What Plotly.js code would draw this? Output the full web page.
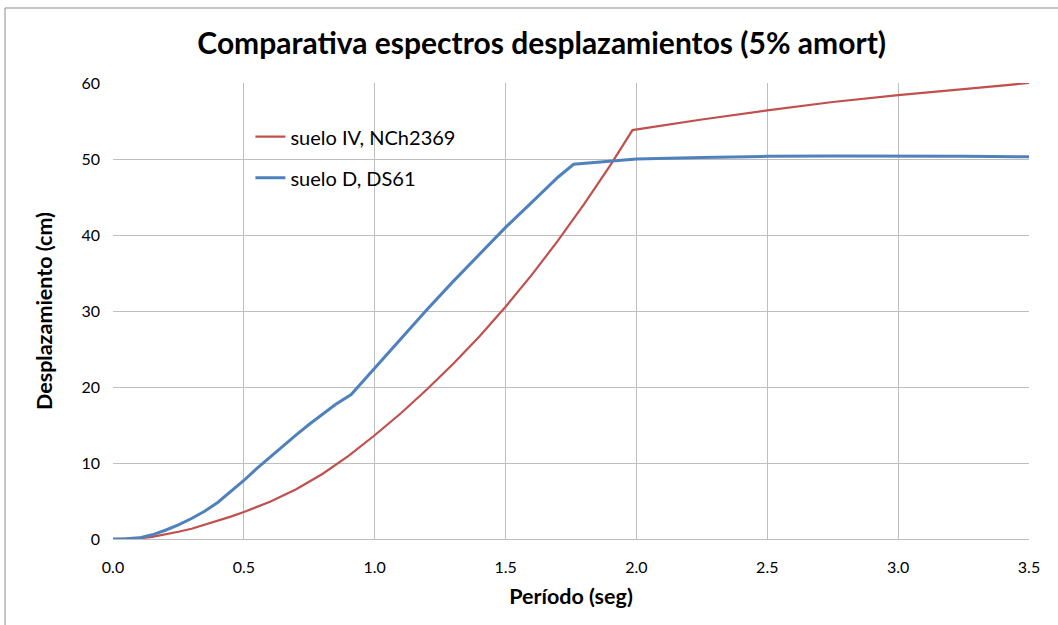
<!DOCTYPE html>
<html>
<head>
<meta charset="utf-8">
<script src="https://cdn.plot.ly/plotly-3.0.1.min.js"></script>
<style>
  html, body { margin: 0; padding: 0; background: #ffffff; }
  #chart { width: 1058px; height: 625px; }
</style>
</head>
<body>
<div id="chart"></div>
<script>
// Spectral displacement (cm) vs period (s), 5% damping
var periodoNCh = [0, 0.05, 0.1, 0.15, 0.2, 0.25, 0.3, 0.35, 0.4, 0.45, 0.5, 0.6, 0.7, 0.8, 0.9, 1.0, 1.1, 1.2, 1.3, 1.4, 1.5, 1.6, 1.7, 1.8, 1.9, 1.985, 2.25, 2.5, 2.75, 3.0, 3.25, 3.5];
var despNCh = [0, 0.01, 0.08, 0.28, 0.6, 0.95, 1.35, 1.85, 2.4, 2.95, 3.55, 4.9, 6.55, 8.55, 10.95, 13.65, 16.55, 19.7, 23.05, 26.65, 30.55, 34.75, 39.25, 44.05, 49.15, 53.8, 55.2, 56.4, 57.5, 58.4, 59.2, 60.0];

var periodoDS = [0, 0.05, 0.1, 0.15, 0.2, 0.25, 0.3, 0.35, 0.4, 0.45, 0.5, 0.55, 0.6, 0.65, 0.7, 0.75, 0.8, 0.85, 0.91, 1.0, 1.1, 1.2, 1.3, 1.4, 1.5, 1.6, 1.7, 1.76, 1.9, 2.0, 2.25, 2.5, 2.75, 3.0, 3.25, 3.5];
var despDS = [0, 0.02, 0.15, 0.55, 1.15, 1.85, 2.7, 3.65, 4.8, 6.2, 7.7, 9.3, 10.8, 12.3, 13.7, 15.1, 16.4, 17.7, 19.0, 22.5, 26.4, 30.2, 33.9, 37.5, 41.0, 44.3, 47.6, 49.3, 49.7, 50.0, 50.2, 50.35, 50.4, 50.4, 50.35, 50.3];

var nombres = ['suelo IV, NCh2369', 'suelo D, DS61'];
var xTicks = [0, 0.5, 1.0, 1.5, 2.0, 2.5, 3.0, 3.5];
var yTicks = [0, 10, 20, 30, 40, 50, 60];

var fontBase = 'Lato, "Open Sans", "Liberation Sans", sans-serif';

var traces = [
  {
    x: periodoNCh, y: despNCh, name: nombres[0], legendgroup: 'a', type: 'scatter', mode: 'lines',
    line: { color: '#C0504D', width: 2.2, shape: 'linear' }
  },
  {
    x: periodoDS, y: despDS, name: nombres[1], legendgroup: 'b', type: 'scatter', mode: 'lines',
    line: { color: '#4F81BD', width: 3, shape: 'linear' }
  }
];

var layout = {
  width: 1058, height: 625,
  margin: { l: 113, r: 29, t: 83, b: 86 },
  paper_bgcolor: '#ffffff', plot_bgcolor: '#ffffff',
  font: { family: fontBase, size: 16, color: '#000000' },
  title: {
    text: '<b>Comparativa espectros desplazamientos (5% amort)</b>',
    font: { family: fontBase, size: 30, color: '#000000' },
    xref: 'container', x: 0.512, xanchor: 'center',
    yref: 'container', y: 0.93, yanchor: 'middle'
  },
  xaxis: {
    range: [0, 3.5], tickvals: xTicks, tickformat: '.1f',
    showgrid: true, gridcolor: '#BEBEBE', gridwidth: 1,
    zeroline: false, showline: true, linecolor: '#BEBEBE', linewidth: 1,
    ticks: '', ticklabelstandoff: 14,
    tickfont: { family: fontBase, size: 16, color: '#000000' },
    title: { text: '<b>Período (seg)</b>', font: { family: fontBase, size: 21.5, color: '#000000' }, standoff: 13 }
  },
  yaxis: {
    range: [0, 60], tickvals: yTicks,
    showgrid: true, gridcolor: '#BEBEBE', gridwidth: 1,
    zeroline: false, showline: false,
    ticks: '', ticklabelstandoff: 12,
    tickfont: { family: fontBase, size: 16, color: '#000000' },
    title: { text: '<b>Desplazamiento (cm)</b>', font: { family: fontBase, size: 21.5, color: '#000000' }, standoff: 22 }
  },
  legend: {
    x: 0.15, y: 0.925, xanchor: 'left', yanchor: 'top',
    bgcolor: 'rgba(0,0,0,0)', borderwidth: 0,
    font: { family: fontBase, size: 20, color: '#000000' },
    traceorder: 'grouped', tracegroupgap: 12
  },
  showlegend: true,
  shapes: [
    {
      type: 'rect', xref: 'paper', yref: 'paper',
      x0: -0.1179, x1: 1.06, y0: -0.25, y1: 1.1645,
      line: { color: '#8C8C8C', width: 1 }, fillcolor: 'rgba(0,0,0,0)', layer: 'below'
    }
  ]
};

Plotly.newPlot('chart', traces, layout, { displayModeBar: false, staticPlot: true });
</script>
</body>
</html>
